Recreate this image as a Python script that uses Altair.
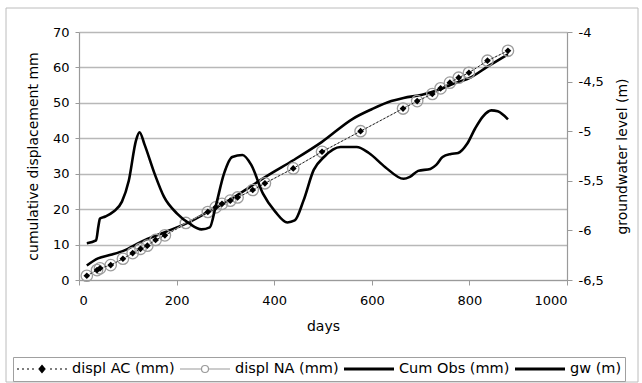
import altair as alt
import pandas as pd

# ---------------- data ----------------
ac_days = [16, 37, 43, 65, 90, 110, 126, 140, 157, 176, 264, 280, 293, 310, 325, 356, 381,
           439, 498, 577, 664, 693, 724, 741, 760, 778, 799, 837, 879]
ac_vals = [1.2, 2.8, 3.3, 4.2, 6.0, 7.6, 8.8, 9.7, 11.3, 12.6, 19.2, 20.5, 21.5, 22.4, 23.3, 25.4, 27.3,
           31.5, 36.2, 42.0, 48.4, 50.5, 52.5, 54.1, 55.7, 57.1, 58.5, 61.9, 64.7]

na_days = [16, 37, 43, 65, 90, 110, 126, 140, 157, 176, 219, 264, 280, 293, 310, 325, 356, 381,
           439, 498, 577, 664, 693, 724, 741, 760, 778, 799, 837, 879]
na_vals = [1.2, 2.8, 3.3, 4.2, 6.0, 7.6, 8.8, 9.7, 11.3, 12.6, 16.1, 19.2, 20.5, 21.5, 22.4, 23.3, 25.4, 27.3,
           31.5, 36.2, 42.0, 48.4, 50.5, 52.5, 54.1, 55.7, 57.1, 58.5, 61.9, 64.7]

obs_days = [16, 39, 65, 92, 126, 176, 219, 264, 310, 356, 393, 439, 498, 561, 600, 640, 665,
            703, 736, 770, 803, 837, 879]
obs_vals = [4.1, 6.1, 7.1, 8.3, 10.7, 13.5, 15.9, 19.2, 22.7, 26.8, 30.0, 33.8, 39.0, 45.5, 48.2, 50.5, 51.4,
            52.3, 53.6, 55.5, 57.2, 60.2, 63.7]

gw_days = [16, 35, 40, 43, 54, 71, 88, 102, 117, 124, 134, 155, 174, 201, 226, 251, 268, 280, 297,
           314, 335, 353, 377, 402, 427, 442, 460, 481, 502, 536, 569, 594, 627, 665, 678, 695,
           720, 732, 745, 762, 777, 795, 812, 828, 845, 858, 879]
gw_vals = [-6.13, -6.10, -5.95, -5.88, -5.86, -5.81, -5.71, -5.50, -5.09, -5.01, -5.13, -5.43, -5.66,
           -5.83, -5.93, -5.99, -5.97, -5.76, -5.43, -5.26, -5.24, -5.34, -5.63, -5.81, -5.92, -5.90,
           -5.70, -5.39, -5.26, -5.16, -5.16, -5.22, -5.36, -5.48, -5.46, -5.40, -5.38, -5.34, -5.26,
           -5.23, -5.22, -5.13, -4.97, -4.85, -4.79, -4.80, -4.88]

series_names = ["displ AC (mm)", "displ NA (mm)", "Cum Obs (mm)", "gw (m)"]

FONT = "DejaVu Sans"

ac = pd.DataFrame({"days": ac_days, "v": ac_vals})
na = pd.DataFrame({"days": na_days, "v": na_vals})
obs = pd.DataFrame({"days": obs_days, "v": obs_vals})
gw = pd.DataFrame({"days": gw_days, "v": gw_vals})
leg = pd.DataFrame({"series": series_names})

x_enc = alt.X("days:Q", scale=alt.Scale(domain=[0, 1000], nice=False),
              axis=alt.Axis(values=[0, 200, 400, 600, 800, 1000], title="days", grid=False,
                            labelExpr="toString(datum.value)",
                            tickSize=5, labelPadding=9, titlePadding=12))

yl_scale = alt.Scale(domain=[0, 70], nice=False)
y_left = alt.Y("v:Q", scale=yl_scale,
               axis=alt.Axis(values=list(range(0, 71, 10)), title="cumulative displacement mm",
                             grid=True, gridColor="#b8b8b8", gridWidth=1.5, tickSize=4,
                             labelPadding=6, titlePadding=12))

obs_line = alt.Chart(obs).mark_line(color="black", strokeWidth=2.6, interpolate="monotone").encode(
    x=x_enc, y=y_left)
na_line = alt.Chart(na).mark_line(color="#b0b0b0", strokeWidth=1).encode(x=x_enc, y=y_left)
na_pts = alt.Chart(na).mark_point(shape="circle", size=130, color="#9c9c9c", filled=False,
                                  strokeWidth=1.3, opacity=1).encode(x=x_enc, y=y_left)
ac_line = alt.Chart(ac).mark_line(color="#222222", strokeWidth=1, strokeDash=[2, 2]).encode(
    x=x_enc, y=y_left)
ac_pts = alt.Chart(ac).mark_point(shape="diamond", size=45, color="black", filled=True,
                                  opacity=1).encode(x=x_enc, y=y_left)

# legend symbols (custom paths in the -1..1 unit box)
p_ac = ("M-1,0H-0.92M-0.8,0H-0.72M-0.6,0H-0.52M-0.4,0H-0.32"
        "M0,-0.14L0.12,0L0,0.14L-0.12,0Z"
        "M0.32,0H0.4M0.52,0H0.6M0.72,0H0.8M0.92,0H1")
p_na = ("M-1,0H-0.14M0.14,0H1"
        "M0.14,0A0.14,0.14 0 1,1 -0.14,0A0.14,0.14 0 1,1 0.14,0Z")
p_thick = "M-1,-0.06H1V0.06H-1Z"

legend_props = dict(
    title=None, orient="none", legendX=-66, legendY=325,
    direction="horizontal", columns=4, symbolSize=2500, clipHeight=18,
    labelFont=FONT, labelFontSize=14.5, labelColor="black", labelOffset=4,
    columnPadding=4, padding=3, strokeColor="#a0a0a0", symbolStrokeWidth=1.2,
    symbolOpacity=1,
)

# legend-only layer: its points sit far outside the canvas
legend_layer = alt.Chart(leg).mark_point(filled=True, size=2500, opacity=1).encode(
    x=alt.value(-5000), y=alt.value(-5000),
    shape=alt.Shape("series:N",
                    scale=alt.Scale(domain=series_names, range=[p_ac, p_na, p_thick, p_thick]),
                    legend=alt.Legend(**legend_props)),
    fill=alt.Fill("series:N",
                  scale=alt.Scale(domain=series_names,
                                  range=["black", "transparent", "black", "black"]),
                  legend=alt.Legend(**legend_props)),
    stroke=alt.Stroke("series:N",
                      scale=alt.Scale(domain=series_names,
                                      range=["black", "#9a9a9a", "transparent", "transparent"]),
                      legend=alt.Legend(**legend_props)),
)

frame = alt.Chart(pd.DataFrame({"a": [0]})).mark_rect(filled=False, stroke="#bcbcbc", strokeWidth=1).encode(
    x=alt.value(-73), x2=alt.value(559), y=alt.value(-24), y2=alt.value(350))

left = alt.layer(obs_line, na_line, na_pts, ac_line, ac_pts, legend_layer, frame)

gw_line = alt.Chart(gw).mark_line(color="black", strokeWidth=2.6, interpolate="monotone").encode(
    x=x_enc,
    y=alt.Y("v:Q", scale=alt.Scale(domain=[-6.5, -4], nice=False),
            axis=alt.Axis(orient="right", values=[-6.5, -6, -5.5, -5, -4.5, -4],
                          labelExpr="replace(toString(datum.value), '.', ',')",
                          title="groundwater level (m)", titleAngle=270, titleBaseline="top",
                          grid=False, tickSize=5, labelPadding=6, titlePadding=12)))

chart = alt.layer(left, gw_line).resolve_scale(y="independent").properties(
    width=488, height=248,
    autosize=alt.AutoSizeParams(type="none"),
    padding={"left": 79, "top": 32, "right": 75, "bottom": 103},
    background="white",
).configure_view(stroke=None).configure_axis(
    labelFont=FONT, titleFont=FONT, labelFontSize=13, titleFontSize=14,
    titleFontWeight="normal", labelColor="black", titleColor="black",
    domainColor="#9a9a9a", tickColor="#9a9a9a", domainWidth=1.2,
)

chart.save("out.html", embed_options={"renderer": "svg", "actions": False})
